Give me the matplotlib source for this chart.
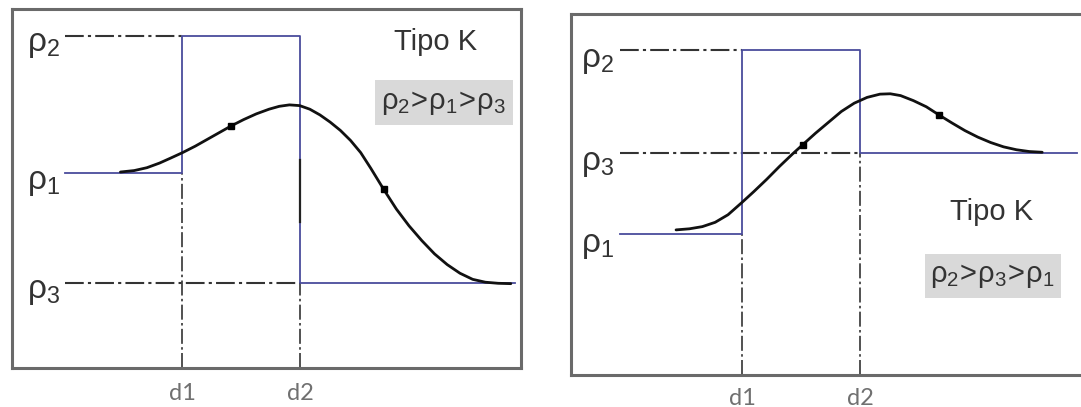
import matplotlib.pyplot as plt
from matplotlib.patches import Rectangle

plt.rcParams['font.family'] = ['Liberation Sans', 'DejaVu Sans']

# --- Panel izquierdo: tipo K con rho2 > rho1 > rho3 ---
d_left = [3.34, 5.66]                 # profundidades d1, d2
rho_left = [5.43, 9.25, 2.37]         # rho1, rho2, rho3
start_left, end_left = 1.05, 9.88
curve_left_x = [2.13, 2.40, 2.65, 2.90, 3.12, 3.35, 3.60, 3.85, 4.10, 4.30, 4.55,
                4.80, 5.05, 5.25, 5.45, 5.65, 5.85, 6.05, 6.25, 6.45, 6.65, 6.85,
                7.05, 7.30, 7.55, 7.80, 8.05, 8.30, 8.55, 8.80, 9.05, 9.30, 9.55, 9.80]
curve_left_y = [5.46, 5.50, 5.58, 5.71, 5.85, 6.00, 6.18, 6.38, 6.58, 6.74, 6.92,
                7.08, 7.21, 7.29, 7.33, 7.31, 7.21, 7.05, 6.85, 6.62, 6.34, 6.00,
                5.56, 4.98, 4.43, 3.96, 3.55, 3.18, 2.88, 2.64, 2.47, 2.39, 2.36, 2.35]
marks_left = [9, 23]                  # indices de los puntos marcados
order_left = r'$\mathregular{ρ_2\!>\!ρ_1\!>\!ρ_3}$'

# --- Panel derecho: tipo K con rho2 > rho3 > rho1 ---
d_right = [3.32, 5.61]
rho_right = [3.90, 9.00, 6.15]
start_right, end_right = 0.95, 9.83
curve_right_x = [2.04, 2.30, 2.55, 2.80, 3.05, 3.32, 3.55, 3.80, 4.05, 4.30, 4.50,
                 4.75, 5.00, 5.25, 5.50, 5.75, 6.00, 6.20, 6.40, 6.65, 6.90, 7.15,
                 7.40, 7.65, 7.90, 8.15, 8.40, 8.65, 8.90, 9.15]
curve_right_y = [4.02, 4.05, 4.11, 4.23, 4.44, 4.78, 5.08, 5.42, 5.78, 6.12, 6.38,
                 6.70, 7.00, 7.30, 7.53, 7.69, 7.78, 7.79, 7.74, 7.60, 7.43, 7.20,
                 6.98, 6.77, 6.59, 6.44, 6.32, 6.24, 6.19, 6.17]
marks_right = [10, 21]
order_right = r'$\mathregular{ρ_2\!>\!ρ_3\!>\!ρ_1}$'

rho_labels = [r'$\mathregular{ρ_1}$', r'$\mathregular{ρ_2}$', r'$\mathregular{ρ_3}$']
d_labels = ['d1', 'd2']

BLUE = '#4a4c9c'
DASH = (0, (9, 2, 1.5, 2))


def draw_panel(ax, d, rho, x0, x1, cx, cy, marks, order, tipo_xy, box, lab_x, lab_dy, dlab_y):
    r1, r2, r3 = rho
    d1, d2 = d
    ax.set_xlim(0, 10)
    ax.set_ylim(0, 10)
    ax.set_xticks([])
    ax.set_yticks([])
    for s in ax.spines.values():
        s.set_color('#6a6a6a')
        s.set_linewidth(2.2)

    # líneas de referencia discontinuas
    ax.plot([x0, d1], [r2, r2], color='#333333', lw=1.5, ls=DASH)
    ax.plot([x0, d2], [r3, r3], color='#333333', lw=1.5, ls=DASH)
    ax.plot([d1, d1], [0, r1], color='#333333', lw=1.2, ls=DASH)
    ax.plot([d2, d2], [0, r3], color='#333333', lw=1.2, ls=DASH)

    # modelo de tres capas
    ax.plot([x0, d1, d1, d2, d2, x1], [r1, r1, r2, r2, r3, r3], color=BLUE, lw=1.3)

    # curva de resistividad aparente
    ax.plot(cx, cy, color='#111111', lw=2.0, solid_capstyle='round', solid_joinstyle='round')
    ax.plot([cx[i] for i in marks], [cy[i] for i in marks], 's', color='black', ms=4.5)

    for lab, r in zip(rho_labels, rho):
        ax.text(lab_x, r - lab_dy, lab, fontsize=24, color='#333333', ha='right', va='center')
    for lab, xd in zip(d_labels, d):
        ax.text(xd, dlab_y, lab, fontsize=17, color='#707070', family='Lato',
                ha='center', va='center', clip_on=False)

    ax.text(tipo_xy[0], tipo_xy[1], 'Tipo K', fontsize=21, color='#333333', ha='center', va='center')
    bx0, bx1, by0, by1 = box
    ax.add_patch(Rectangle((bx0, by0), bx1 - bx0, by1 - by0, facecolor='#d9d9d9', edgecolor='none'))
    ax.text((bx0 + bx1) / 2, (by0 + by1) / 2, order, fontsize=21, color='#333333',
            ha='center', va='center')


fig = plt.figure(figsize=(10.81, 4.07), dpi=100, facecolor='white')
ax1 = fig.add_axes([0.0111, 0.0958, 0.4709, 0.882])
ax2 = fig.add_axes([0.5282, 0.0786, 0.4764, 0.887])

draw_panel(ax1, d_left, rho_left, start_left, end_left, curve_left_x, curve_left_y,
           marks_left, order_left, (8.33, 9.08), (7.13, 9.84, 6.77, 8.02), 0.95, 0.25, -0.70)
# tramo oscuro sobre d2
ax1.plot([d_left[1], d_left[1]], [4.07, 5.79], color='#222222', lw=1.6)

draw_panel(ax2, d_right, rho_right, start_right, end_right, curve_right_x, curve_right_y,
           marks_right, order_right, (8.16, 4.52), (6.87, 9.51, 2.13, 3.35), 0.83, 0.30, -0.64)

fig.savefig('out.png', dpi=100)
